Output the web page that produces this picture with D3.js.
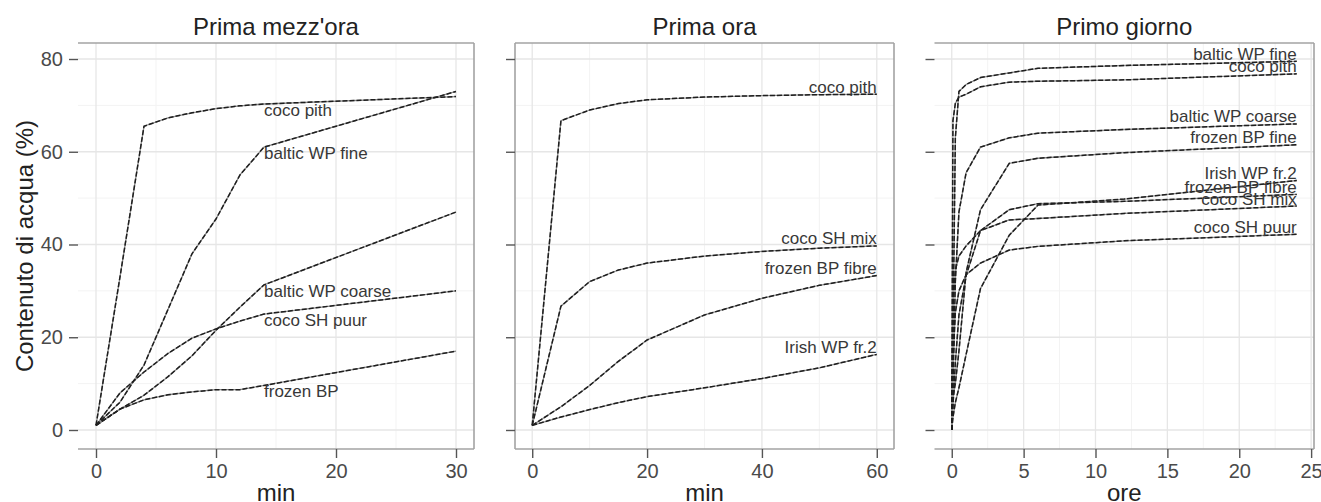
<!DOCTYPE html>
<html>
<head>
<meta charset="utf-8">
<script src="https://cdn.jsdelivr.net/npm/d3@7"></script>
<style>
  body { margin: 0; background: #fff; }
  svg { display: block; }
  text { font-family: "Liberation Sans", Arial, sans-serif; }
</style>
</head>
<body>
<svg id="chart" width="1321" height="502"></svg>
<script>
// y axis shared by the three panels
const yTicks = [0, 20, 40, 60, 80];

// Prima mezz'ora (minutes)
const halfHourTicks = [0, 10, 20, 30];
const halfHourTimes = [0, 2, 4, 6, 8, 10, 12, 14, 30];
const halfHourNames = ["coco pith", "baltic WP fine", "baltic WP coarse", "coco SH puur", "frozen BP"];
const halfHourCocoPith = [1, 33, 65.5, 67.3, 68.4, 69.3, 69.9, 70.3, 71.9];
const halfHourBalticFine = [1, 6, 14, 26, 38, 45.5, 55, 61, 73];
const halfHourBalticCoarse = [1, 4.5, 7.5, 11.5, 16, 21.5, 26.5, 31.3, 47];
const halfHourCocoSHPuur = [1, 8, 12.5, 16.5, 19.8, 21.8, 23.5, 25, 30];
const halfHourFrozenBP = [1, 4.5, 6.5, 7.6, 8.2, 8.7, 8.7, 9.6, 17];

// Prima ora (minutes)
const hourTicks = [0, 20, 40, 60];
const hourTimes = [0, 5, 10, 15, 20, 30, 40, 50, 60];
const hourNames = ["coco pith", "coco SH mix", "frozen BP fibre", "Irish WP fr.2"];
const hourCocoPith = [1, 66.7, 69, 70.4, 71.2, 71.8, 72.1, 72.3, 72.4];
const hourCocoSHMix = [1, 26.7, 32, 34.5, 36, 37.5, 38.5, 39.2, 39.7];
const hourFrozenBPFibre = [1, 5, 9.6, 14.8, 19.4, 24.8, 28.4, 31.2, 33.3];
const hourIrishWP = [1, 2.8, 4.4, 5.9, 7.2, 9.1, 11.1, 13.4, 16.3];

// Primo giorno (hours)
const dayTicks = [0, 5, 10, 15, 20, 25];
const dayTimes = [0, 0.083, 0.25, 0.5, 1, 2, 4, 6, 12, 24];
const dayNames = ["baltic WP fine", "coco pith", "baltic WP coarse", "frozen BP fine",
                  "Irish WP fr.2", "frozen BP fibre", "coco SH mix", "coco SH puur"];
const dayBalticFine = [0, 20, 63, 73, 74.5, 76, 77, 78, 78.6, 79.5];
const dayCocoPith = [0, 66.7, 70.4, 71.8, 72.4, 74, 75, 75.2, 75.5, 76.8];
const dayBalticCoarse = [0, 9.5, 32, 47, 55.5, 61, 63, 64, 64.8, 66];
const dayFrozenBPFine = [0, 7, 10, 17, 34, 47.5, 57.5, 58.6, 59.8, 61.5];
const dayIrishWP = [0, 2.7, 5.9, 9.1, 16.3, 30.5, 42, 48.5, 49.8, 53.8];
const dayFrozenBPFibre = [0, 5, 14.5, 24.8, 33.3, 43, 47.5, 48.8, 49.3, 50.8];
const dayCocoSHMix = [0, 26.7, 34.5, 37.5, 39.7, 43, 45.3, 45.6, 46.7, 48.3];
const dayCocoSHPuur = [0, 14.5, 25.3, 30, 33.5, 36, 38.8, 39.6, 40.8, 42.2];

const panels = [
  {
    title: "Prima mezz'ora", xlab: "min", left: 78, right: 474, xDomain: [-1.5, 31.5],
    ticks: halfHourTicks, times: halfHourTimes, names: halfHourNames,
    values: [halfHourCocoPith, halfHourBalticFine, halfHourBalticCoarse, halfHourCocoSHPuur, halfHourFrozenBP],
    labelAt: 14, yLabels: true, leftBorder: false
  },
  {
    title: "Prima ora", xlab: "min", left: 515, right: 894, xDomain: [-3, 63],
    ticks: hourTicks, times: hourTimes, names: hourNames,
    values: [hourCocoPith, hourCocoSHMix, hourFrozenBPFibre, hourIrishWP],
    labelAt: null, yLabels: false, leftBorder: true
  },
  {
    title: "Primo giorno", xlab: "ore", left: 934.5, right: 1314, xDomain: [-1.2, 25.2],
    ticks: dayTicks, times: dayTimes, names: dayNames,
    values: [dayBalticFine, dayCocoPith, dayBalticCoarse, dayFrozenBPFine,
             dayIrishWP, dayFrozenBPFibre, dayCocoSHMix, dayCocoSHPuur],
    labelAt: null, yLabels: false, leftBorder: false
  }
];

const svg = d3.select('#chart');
const panelTop = 43, panelBottom = 449;
const y = d3.scaleLinear().domain([-4.1, 83.45]).range([panelBottom, panelTop]);
const yMinor = d3.pairs(yTicks).map(([a, b]) => (a + b) / 2);

panels.forEach(p => {
  const x = d3.scaleLinear().domain(p.xDomain).range([p.left, p.right]);
  const xMinor = d3.pairs(p.ticks).map(([a, b]) => (a + b) / 2);
  const g = svg.append('g');

  // grid
  g.selectAll('.gx-minor').data(xMinor).join('line')
    .attr('x1', d => x(d)).attr('x2', d => x(d))
    .attr('y1', panelTop).attr('y2', panelBottom)
    .attr('stroke', '#f3f3f3').attr('stroke-width', 1);
  g.selectAll('.gy-minor').data(yMinor).join('line')
    .attr('x1', p.left).attr('x2', p.right)
    .attr('y1', d => y(d)).attr('y2', d => y(d))
    .attr('stroke', '#f3f3f3').attr('stroke-width', 1);
  g.selectAll('.gx').data(p.ticks).join('line')
    .attr('x1', d => x(d)).attr('x2', d => x(d))
    .attr('y1', panelTop).attr('y2', panelBottom)
    .attr('stroke', '#e6e6e6').attr('stroke-width', 1.3);
  g.selectAll('.gy').data(yTicks).join('line')
    .attr('x1', p.left).attr('x2', p.right)
    .attr('y1', d => y(d)).attr('y2', d => y(d))
    .attr('stroke', '#e6e6e6').attr('stroke-width', 1.3);

  // curves: grey underlay plus dark dashes, like the blurred dashed lines of the original
  const line = d3.line().x(d => x(d[0])).y(d => y(d[1]));
  const series = p.names.map((name, i) => ({
    name: name,
    points: p.times.map((t, j) => [t, p.values[i][j]])
  }));
  g.selectAll('.curve-base').data(series).join('path')
    .attr('d', d => line(d.points))
    .attr('fill', 'none')
    .attr('stroke', '#8c8c8c')
    .attr('stroke-width', 1.3);
  g.selectAll('.curve').data(series).join('path')
    .attr('d', d => line(d.points))
    .attr('fill', 'none')
    .attr('stroke', '#1e1e1e')
    .attr('stroke-width', 1.5)
    .attr('stroke-dasharray', '5,2');

  // labels
  const labelPoint = d => p.labelAt !== null
    ? d.points.find(q => q[0] === p.labelAt)
    : d.points[d.points.length - 1];
  g.selectAll('.lab').data(series).join('text')
    .attr('x', d => x(labelPoint(d)[0]))
    .attr('y', d => y(labelPoint(d)[1]) + (p.labelAt !== null ? 12 : -1.5))
    .attr('text-anchor', p.labelAt !== null ? 'start' : 'end')
    .attr('font-size', 17)
    .attr('fill', '#383838')
    .text(d => d.name);

  // border
  const border = [
    [p.left, panelTop, p.right, panelTop],
    [p.right, panelTop, p.right, panelBottom],
    [p.left, panelBottom, p.right, panelBottom]
  ];
  if (p.leftBorder) border.push([p.left, panelTop, p.left, panelBottom]);
  g.selectAll('.border').data(border).join('line')
    .attr('x1', d => d[0]).attr('y1', d => d[1])
    .attr('x2', d => d[2]).attr('y2', d => d[3])
    .attr('stroke', '#a3a3a3').attr('stroke-width', 1.6);

  // axes
  const styleAxis = a => {
    a.select('.domain').remove();
    a.attr('font-family', '"Liberation Sans", Arial, sans-serif').attr('font-size', 20);
    a.selectAll('line').attr('stroke', '#555').attr('stroke-width', 1.4);
    a.selectAll('text').attr('fill', '#4a4a4a');
  };
  g.append('g')
    .attr('transform', `translate(0,${panelBottom})`)
    .call(d3.axisBottom(x).tickValues(p.ticks).tickSize(9).tickSizeOuter(0).tickPadding(6))
    .call(styleAxis);
  g.append('g')
    .attr('transform', `translate(${p.left},0)`)
    .call(d3.axisLeft(y).tickValues(yTicks).tickSize(9).tickSizeOuter(0).tickPadding(6)
      .tickFormat(p.yLabels ? d3.format('d') : () => ''))
    .call(styleAxis);

  // titles
  g.append('text')
    .attr('x', (p.left + p.right) / 2).attr('y', 35)
    .attr('text-anchor', 'middle').attr('font-size', 24).attr('fill', '#222')
    .text(p.title);
  g.append('text')
    .attr('x', (p.left + p.right) / 2).attr('y', 501)
    .attr('text-anchor', 'middle').attr('font-size', 24).attr('fill', '#222')
    .text(p.xlab);
});

svg.append('text')
  .attr('transform', `translate(33,${(panelTop + panelBottom) / 2}) rotate(-90)`)
  .attr('text-anchor', 'middle').attr('font-size', 24).attr('fill', '#222')
  .text('Contenuto di acqua (%)');
</script>
</body>
</html>
